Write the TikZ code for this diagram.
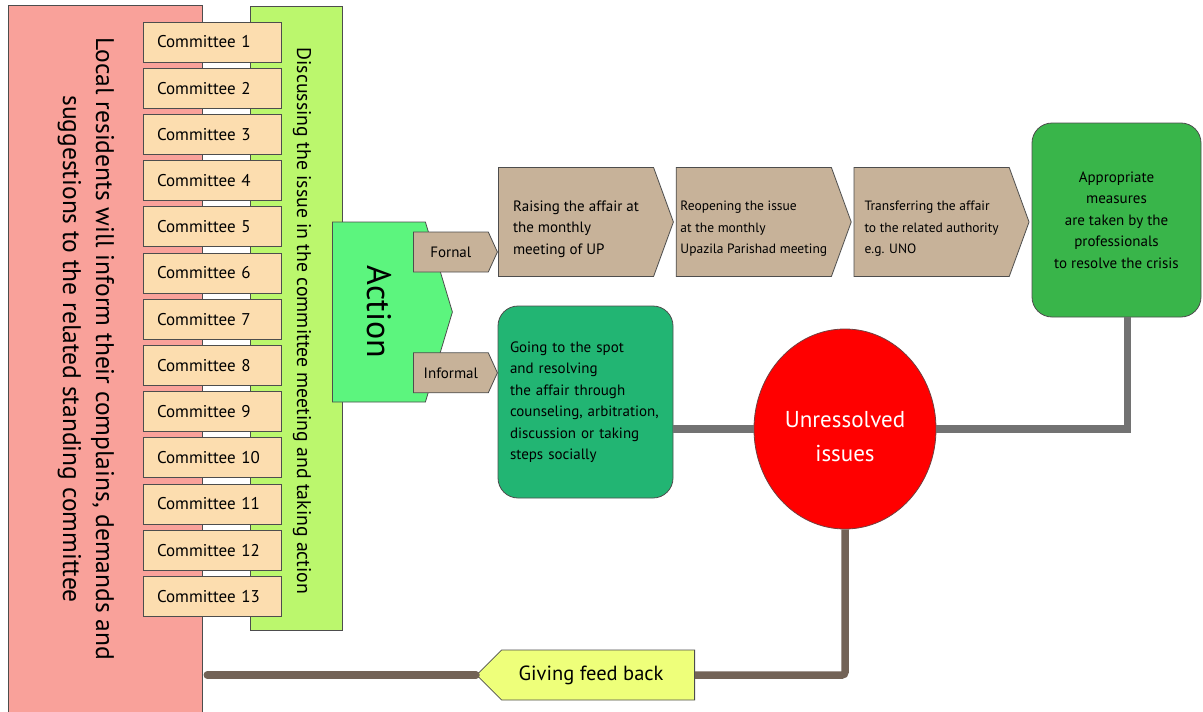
\documentclass[tikz,border=0pt]{standalone}
\usepackage{fontspec}
\setmainfont{PT Sans}
\usetikzlibrary{positioning,shapes.geometric,shapes.symbols,calc}
\definecolor{pinkbg}{HTML}{F9A19A}
\definecolor{limebg}{HTML}{BBF76D}
\definecolor{actgreen}{HTML}{5CF57E}
\definecolor{peach}{HTML}{FCDDAF}
\definecolor{khaki}{HTML}{C7B299}
\definecolor{spotgreen}{HTML}{22B573}
\definecolor{measgreen}{HTML}{39B54A}
\definecolor{feedyel}{HTML}{EEFF7A}
\definecolor{edge}{HTML}{4D4D4D}
\definecolor{linkgray}{HTML}{727272}
\definecolor{linkbrown}{HTML}{736357}
\tikzset{
  panel/.style={rectangle,draw=edge,line width=0.6pt,inner sep=0pt},
  com/.style={rectangle,draw=edge,fill=peach,line width=0.8pt,
    minimum width=138pt,minimum height=40pt,text width=110pt,align=left,
    inner sep=0pt,font=\fontsize{17}{20}\selectfont},
  actbox/.style={signal,signal to=east,draw=edge,fill=actgreen,line width=0.8pt,
    minimum width=120pt,minimum height=180pt,signal pointer angle=146.6,
    inner sep=0pt,font=\fontsize{34}{40}\selectfont},
  route/.style={signal,signal to=east,draw=edge,fill=khaki,line width=0.8pt,
    minimum width=84pt,minimum height=40pt,signal pointer angle=131,
    inner sep=0pt,font=\fontsize{15}{18}\selectfont},
  stage/.style={signal,signal to=east,draw=edge,fill=khaki,line width=0.8pt,
    minimum width=175pt,minimum height=109pt,signal pointer angle=140,
    inner sep=0pt,align=left,font=\fontsize{13.5}{21.5}\selectfont},
  roundbox/.style={rectangle,rounded corners=20pt,draw=edge,line width=0.8pt,
    inner sep=0pt,font=\fontsize{15}{21.5}\selectfont},
  lnk/.style={draw=linkgray,line width=7.5pt},
  back/.style={draw=linkbrown,line width=7.5pt},
}
\begin{document}
\begin{tikzpicture}[x=1pt,y=-1pt]
  \useasboundingbox (0,0) rectangle (1203,712);
  % side panels
  \node[panel,fill=pinkbg,minimum width=194pt,minimum height=712pt] (res) at (105,361) {};
  \node[rotate=-90,align=center,font=\fontsize{25.5}{33}\selectfont] (restxt) at (86,349)
    {Local residents will inform their complains, demands and\\suggestions to the related standing committee};
  \node[panel,fill=limebg,minimum width=92pt,minimum height=624pt] (disc) at (296,318) {};
  \node[rotate=-90,font=\fontsize{19.8}{22}\selectfont] (disctxt) at (302,321)
    {Discussing the issue in the committee meeting and taking action};
  % standing committees
  \foreach \i in {1,...,13}
    \node[com] (com\i) at (212,{42+(\i-1)*46.2}) {Committee \i};
  % action and the two routes
  \node[actbox,anchor=west] (act) at (332,312) {\rotatebox{-90}{Action}};
  \node[route,anchor=west] (fornal) at (413,252) {Fornal};
  \node[route,below=80pt of fornal] (informal) {Informal};
  % formal route
  \node[stage,font=\fontsize{15}{21.5}\selectfont,anchor=west] (raise) at (498,222)
    {\rule{0pt}{25pt}Raising the affair at\\the monthly\\meeting of UP};
  \node[stage,right=2pt of raise] (reopen)
    {\rule{0pt}{23pt}Reopening the issue\\at the monthly\\Upazila Parishad meeting};
  \node[stage,right=2pt of reopen] (transfer)
    {\rule{0pt}{23pt}Transferring the affair\\to the related authority\\e.g. UNO};
  \node[roundbox,fill=measgreen,minimum width=169pt,minimum height=194pt,align=center] (measure) at (1116.5,220)
    {Appropriate\\measures\\are taken by the\\professionals\\to resolve the crisis};
  % informal route
  \node[roundbox,fill=spotgreen,minimum width=175pt,minimum height=192pt,text width=151pt,align=left] (spot) at (585.5,402)
    {Going to the spot\\and resolving\\the affair through\\counseling, arbitration,\\discussion or taking\\steps socially};
  \node[ellipse,draw=edge!80!red,fill=red,line width=0.8pt,minimum width=182pt,minimum height=200pt,
    inner sep=0pt,align=center,text=white,font=\fontsize{23}{34}\selectfont] (unres) at (845,429)
    {\rule{0pt}{31pt}Unressolved\\issues};
  \node[signal,signal to=west,draw=edge,fill=feedyel,line width=0.8pt,minimum width=218pt,minimum height=50pt,
    signal pointer angle=90,inner sep=0pt,font=\fontsize{20.5}{24}\selectfont,anchor=east] (feedback) at (695,675)
    {Giving feed back\hspace*{14pt}};
  % links
  \draw[lnk] (unres.west -| spot.east) -- (unres.west);
  \draw[lnk] ([xshift=11pt]measure.south) |- (unres.east);
  \draw[back,rounded corners=3pt] (unres.south) |- (feedback.east);
  \draw[back,line cap=round] (feedback.west) -- ($(res.east |- feedback.west)+(5,0)$);
\end{tikzpicture}
\end{document}
